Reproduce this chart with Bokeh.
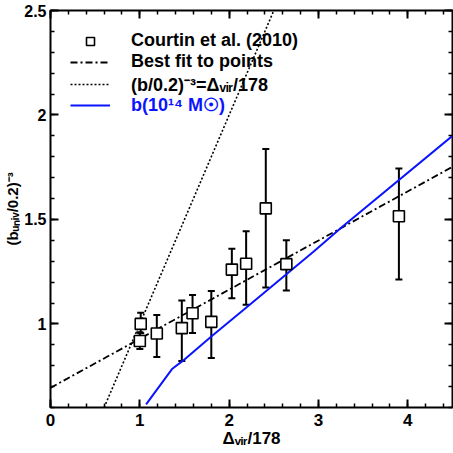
from bokeh.plotting import figure
from bokeh.models import (LinearAxis, SingleIntervalTicker, CustomJSTickFormatter,
                          ColumnDataSource, Whisker, TeeHead, Legend, LegendItem, Range1d)
from bokeh.embed import file_html
from bokeh.resources import INLINE

# ---- data ----
courtin_x = [1.00, 1.01, 1.19, 1.47, 1.59, 1.80, 2.03, 2.19, 2.41, 2.64, 3.90]
courtin_y = [0.918, 1.000, 0.954, 0.980, 1.051, 1.010, 1.260, 1.288, 1.553, 1.286, 1.515]
courtin_hi = [0.960, 1.054, 1.043, 1.112, 1.139, 1.158, 1.360, 1.443, 1.837, 1.401, 1.744]
courtin_lo = [0.880, 0.955, 0.842, 0.823, 0.956, 0.837, 1.123, 1.092, 1.174, 1.160, 1.213]

fit_x = [0.0, 4.5]
fit_y = [0.694, 1.752]

ident_x = [0.6, 2.5]
ident_y = [0.6, 2.5]

bmass_x = [1.07, 1.36, 1.48, 1.80, 2.24, 2.94, 3.26, 4.5]
bmass_y = [0.615, 0.784, 0.823, 0.940, 1.095, 1.344, 1.463, 1.900]

x_ticks_interval = 1
y_ticks_interval = 0.5

FONT = "Liberation Sans"

p = figure(width=453, height=453, output_backend="svg", toolbar_location=None,
           x_range=Range1d(0, 4.5), y_range=Range1d(0.6, 2.5),
           min_border_left=50, min_border_right=1, min_border_top=10, min_border_bottom=46,
           x_axis_location=None, y_axis_location=None)
p.grid.visible = False
p.outline_line_color = "black"
p.outline_line_width = 2
p.background_fill_color = "white"
p.border_fill_color = "white"

fmt = CustomJSTickFormatter(code="return String(Number(tick.toFixed(2)));")
blank = CustomJSTickFormatter(code="return '';")

def make_axis(ticker, labels=True):
    ax = LinearAxis(ticker=ticker, formatter=fmt if labels else blank)
    ax.axis_line_color = None
    ax.major_tick_in = 8
    ax.major_tick_out = 0
    ax.minor_tick_in = 4
    ax.minor_tick_out = 0
    ax.major_tick_line_width = 2
    ax.minor_tick_line_width = 1.5
    ax.major_tick_line_color = "black"
    ax.minor_tick_line_color = "black"
    ax.major_label_text_font = FONT
    ax.major_label_text_font_style = "bold"
    ax.major_label_text_font_size = "17px"
    ax.major_label_text_color = "black"
    ax.axis_label_text_font = FONT
    ax.axis_label_text_font_style = "bold"
    ax.axis_label_text_font_size = "17px"
    ax.axis_label_text_color = "black"
    if not labels:
        ax.major_label_standoff = 0
    return ax

xt = lambda: SingleIntervalTicker(interval=x_ticks_interval, num_minor_ticks=5)
yt = lambda: SingleIntervalTicker(interval=y_ticks_interval, num_minor_ticks=5)

bx = make_axis(xt())
bx.axis_label = "Δᵥᵢᵣ/178"
bx.major_label_standoff = 6
bx.axis_label_standoff = 0
p.add_layout(bx, "below")

ly = make_axis(yt())
ly.axis_label = "(bᵤₙᵢᵥ/0.2)⁻³"
ly.major_label_text_font_size = "16px"
ly.axis_label_text_font_size = "15px"
ly.major_label_standoff = 4
ly.axis_label_standoff = 0
p.add_layout(ly, "left")

ta = make_axis(xt(), labels=False)
p.add_layout(ta, "above")
ra = make_axis(yt(), labels=False)
p.add_layout(ra, "right")

# ---- glyphs ----
src = ColumnDataSource(dict(x=courtin_x, y=courtin_y, hi=courtin_hi, lo=courtin_lo))
wk = Whisker(source=src, base="x", upper="hi", lower="lo", dimension="height",
             line_width=2, line_color="black",
             upper_head=TeeHead(size=7, line_width=2, line_color="black"),
             lower_head=TeeHead(size=7, line_width=2, line_color="black"))
wk.level = "underlay"
p.add_layout(wk)

r_ident = p.line(ident_x, ident_y, line_color="black", line_width=1.6, line_dash="2 2")
r_fit = p.line(fit_x, fit_y, line_color="black", line_width=1.8, line_dash="7 3 2 3")
r_blue = p.line(bmass_x, bmass_y, line_color="#0a14ff", line_width=2)
r_pts = p.scatter(src.data["x"], src.data["y"], marker="square", size=11,
                  fill_color="white", line_color="black", line_width=1.6)

common = dict(glyph_width=40, glyph_height=20, label_height=20, label_standoff=21,
              spacing=0, padding=0, margin=0, background_fill_alpha=0,
              border_line_color=None, label_text_font=FONT,
              label_text_font_style="bold", label_text_font_size="18px")

leg1 = Legend(items=[LegendItem(label="Courtin et al. (2010)", renderers=[r_pts]),
                     LegendItem(label="Best fit to points", renderers=[r_fit]),
                     LegendItem(label="(b/0.2)⁻³=Δᵥᵢᵣ/178", renderers=[r_ident])],
              location=(20, 311), label_text_color="black", **common)
leg2 = Legend(items=[LegendItem(label="b(10¹⁴ M☉)", renderers=[r_blue])],
              location=(20, 291), label_text_color="#0a14ff", **common)
p.add_layout(leg1, "center")
p.add_layout(leg2, "center")

open("out.html", "w").write(file_html(p, INLINE))
